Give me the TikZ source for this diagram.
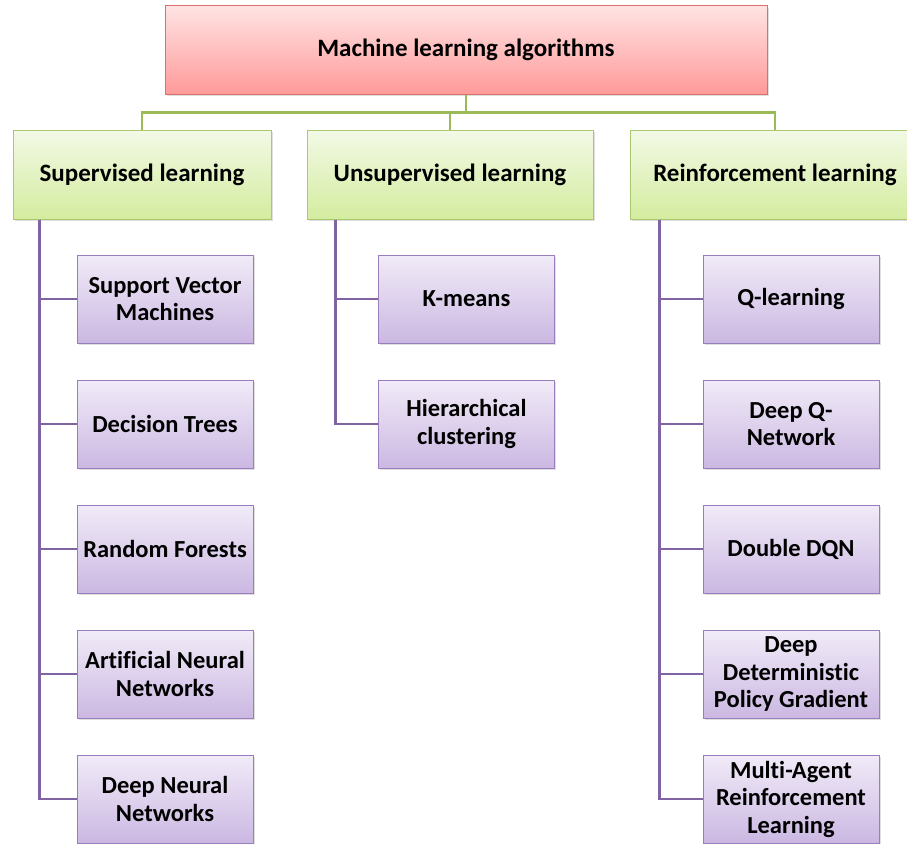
\documentclass[tikz,border=0pt]{standalone}
\usepackage{fontspec}
\setmainfont[Ligatures=CommonOff]{Carlito}
\usetikzlibrary{shadows}

\definecolor{rootline}{HTML}{D9706D}
\definecolor{roottop}{HTML}{FFE3E3}
\definecolor{rootbot}{HTML}{FF9A9A}
\definecolor{catline}{HTML}{A9C96E}
\definecolor{cattop}{HTML}{F3F9E6}
\definecolor{catbot}{HTML}{D4EC9F}
\definecolor{leafline}{HTML}{9A7DBD}
\definecolor{leaftop}{HTML}{F1EBF8}
\definecolor{leafbot}{HTML}{CBB8E2}
\definecolor{greenwire}{HTML}{9BBB59}
\definecolor{purplewire}{HTML}{8064A2}

\begin{document}
\begin{tikzpicture}[x=1pt, y=-1pt,
  boxshadow/.style={drop shadow={opacity=0.25, shadow xshift=1.5pt, shadow yshift=-2pt}},
  rootbox/.style={draw=rootline, line width=1pt, top color=roottop, bottom color=rootbot,
    minimum width=602pt, minimum height=88pt, inner sep=0pt, boxshadow,
    font=\fontsize{25}{28}\selectfont\bfseries},
  catbox/.style={draw=catline, line width=1pt, top color=cattop, bottom color=catbot,
    minimum height=89pt, inner sep=0pt, boxshadow,
    font=\fontsize{25}{28}\selectfont\bfseries},
  leafbox/.style={draw=leafline, line width=1pt, top color=leaftop, bottom color=leafbot,
    minimum width=176pt, minimum height=88pt, inner sep=0pt, align=center, boxshadow,
    font=\fontsize{24.5}{27.5}\selectfont\bfseries},
  greenline/.style={draw=greenwire, line width=2.6pt},
  purpleline/.style={draw=purplewire, line width=2.6pt}]
\useasboundingbox (0,0) rectangle (907,843);

% top of the tree
\node[rootbox] (ml) at (466,50) {Machine learning algorithms};

% the three kinds
\node[catbox, minimum width=258pt] (sup) at (142,174.5) {Supervised learning};
\node[catbox, minimum width=286pt] (uns) at (450,174.5) {Unsupervised learning};
\node[catbox, minimum width=290pt] (rei) at (775,174.5) {Reinforcement learning};

\draw[greenline] (ml.south) -- ++(0,18) -| (sup.north);
\draw[greenline] (ml.south) -- ++(0,18) -| (uns.north);
\draw[greenline] (ml.south) -- ++(0,18) -| (rei.north);

% supervised
\node[leafbox] (sup1) at (165,299) {Support Vector\\Machines};
\node[leafbox] (sup2) at (165,424) {Decision Trees};
\node[leafbox] (sup3) at (165,549) {Random Forests};
\node[leafbox] (sup4) at (165,674) {Artificial Neural\\Networks};
\node[leafbox] (sup5) at (165,799) {Deep Neural\\Networks};

% unsupervised
\node[leafbox] (uns1) at (466.5,299) {K-means};
\node[leafbox] (uns2) at (466.5,424) {Hierarchical\\clustering};

% reinforcement
\node[leafbox] (rei1) at (791,299) {Q-learning};
\node[leafbox] (rei2) at (791,424) {Deep Q-\\Network};
\node[leafbox] (rei3) at (791,549) {Double DQN};
\node[leafbox] (rei4) at (791,674) {Deep\\Deterministic\\Policy Gradient};
\node[leafbox] (rei5) at (791,799) {Multi-Agent\\Reinforcement\\Learning};

\foreach \i in {1,...,5}
  \draw[purpleline] ([xshift=27pt]sup.south west) |- (sup\i.west);
\foreach \i in {1,2}
  \draw[purpleline] ([xshift=29pt]uns.south west) |- (uns\i.west);
\foreach \i in {1,...,5}
  \draw[purpleline] ([xshift=30pt]rei.south west) |- (rei\i.west);
\end{tikzpicture}
\end{document}
